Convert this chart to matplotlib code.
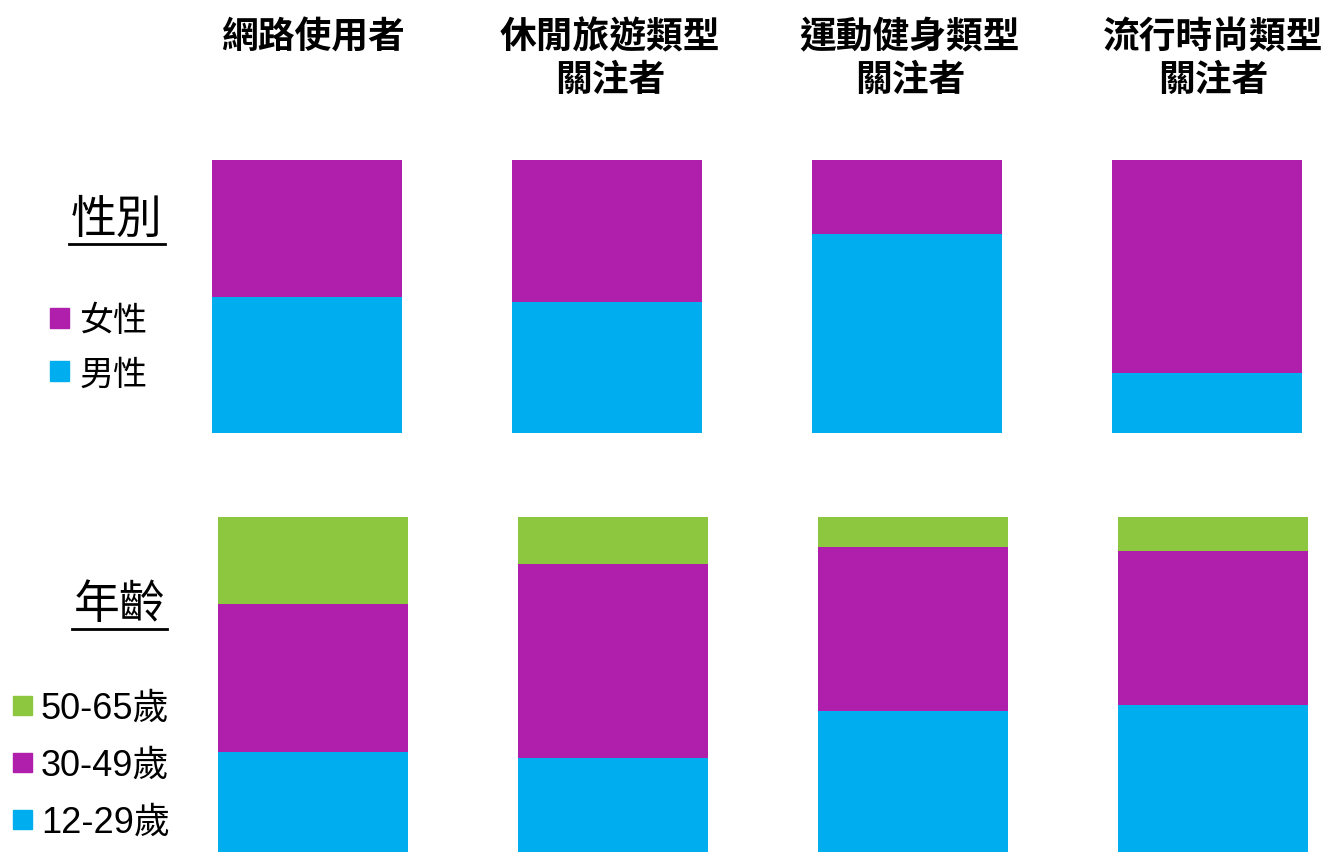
import matplotlib.pyplot as plt
from matplotlib.patches import Rectangle

plt.rcParams['font.family'] = ['Noto Sans CJK TC', 'DejaVu Sans']

groups = ['網路使用者', '休閒旅遊類型\n關注者', '運動健身類型\n關注者', '流行時尚類型\n關注者']

# gender split (share of each group)
male = [0.50, 0.48, 0.73, 0.22]
female = [0.50, 0.52, 0.27, 0.78]

# age split
age_12_29 = [0.30, 0.28, 0.42, 0.44]
age_30_49 = [0.44, 0.58, 0.49, 0.46]
age_50_65 = [0.26, 0.14, 0.09, 0.10]

PURPLE = '#B01EAC'
BLUE = '#00ADEE'
GREEN = '#8DC63F'

W, H = 1335, 852
fig = plt.figure(figsize=(W / 100, H / 100), dpi=100)


def fx(px):
    return px / W


def fy(py):
    return 1 - py / H


x = list(range(len(groups)))
bar_w = 190 / 300

# gender panel
ax1 = fig.add_axes([0, fy(433.3), 1, (433.3 - 160.3) / H])
ax1.bar(x, male, bar_w, color=BLUE)
ax1.bar(x, female, bar_w, bottom=male, color=PURPLE)
ax1.set_xlim(-307.3 / 300, (W - 307.3) / 300)
ax1.set_ylim(0, 1)
ax1.axis('off')

# age panel
ax2 = fig.add_axes([0, 0, 1, (852 - 517.3) / H])
bottom2 = [a + b for a, b in zip(age_12_29, age_30_49)]
ax2.bar(x, age_12_29, bar_w, color=BLUE)
ax2.bar(x, age_30_49, bar_w, bottom=age_12_29, color=PURPLE)
ax2.bar(x, age_50_65, bar_w, bottom=bottom2, color=GREEN)
ax2.set_xlim(-313 / 300, (W - 313) / 300)
ax2.set_ylim(0, 1)
ax2.axis('off')

# column headers
col_centers = [313, 610, 910, 1213]
for cx, name in zip(col_centers, groups):
    for i, line in enumerate(name.split('\n')):
        fig.text(fx(cx), fy(38 + 42 * i), line, ha='center', va='center',
                 fontsize=26.5, fontweight='bold', color='black')

# row labels with underline
fig.text(fx(117), fy(220), '性別', ha='center', va='center', fontsize=33)
fig.add_artist(plt.Line2D([fx(69), fx(165)], [fy(244), fy(244)], color='black', lw=2))
fig.text(fx(120), fy(605), '年齡', ha='center', va='center', fontsize=33)
fig.add_artist(plt.Line2D([fx(72), fx(167)], [fy(629), fy(629)], color='black', lw=2))

# legends
sq = 19
gender_keys = [('女性', PURPLE, 318), ('男性', BLUE, 371)]
for label, col, cy in gender_keys:
    fig.add_artist(Rectangle((fx(50), fy(cy + sq / 2)), sq / W, sq / H, color=col))
    fig.text(fx(80), fy(cy + 4), label, ha='left', va='center', fontsize=24.5)

age_keys = [('50-65歲', GREEN, 705), ('30-49歲', PURPLE, 762), ('12-29歲', BLUE, 819)]
for label, col, cy in age_keys:
    fig.add_artist(Rectangle((fx(13), fy(cy + sq / 2)), sq / W, sq / H, color=col))
    fig.text(fx(41), fy(cy + 4), label, ha='left', va='center', fontsize=26,
             family=['Liberation Sans', 'Noto Sans CJK TC'])

fig.savefig('out.png', dpi=100, facecolor='white')
